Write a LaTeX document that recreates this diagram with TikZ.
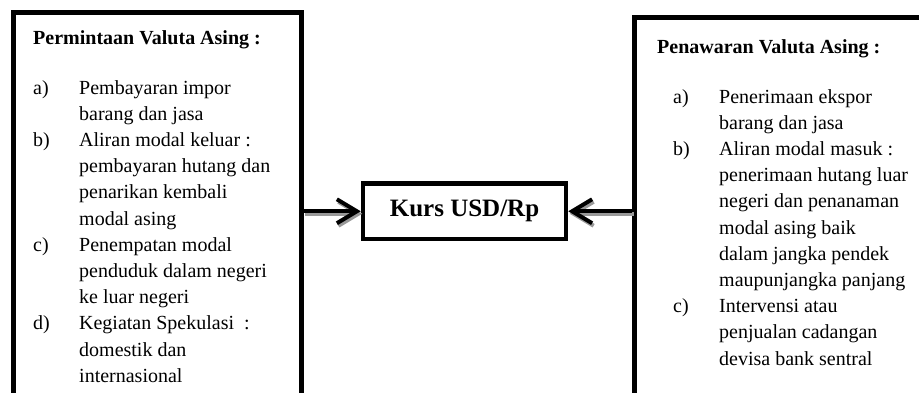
\documentclass[tikz,border=0pt]{standalone}
\usepackage{fontspec}
\setmainfont{Liberation Serif}
\usetikzlibrary{arrows.meta}
\begin{document}
\begin{tikzpicture}[x=1pt,y=-1pt,
  frame/.style={draw=black, line width=5pt, rectangle, inner sep=0pt},
  kursbox/.style={draw=black, line width=4.5pt, fill=white, rectangle, inner sep=0pt,
    minimum width=203pt, minimum height=55.5pt, font=\fontsize{25}{30}\selectfont\bfseries},
  titletext/.style={anchor=base west, inner sep=0pt, font=\fontsize{20}{26.2}\selectfont\bfseries},
  itemtext/.style={anchor=base west, inner sep=0pt, font=\fontsize{20}{26.2}\selectfont},
  link/.style={line width=4pt, -{Straight Barb[length=20pt,width=24pt]}},
  shadowlink/.style={link, draw=black!40, transform canvas={xshift=1.5pt,yshift=-2.5pt}}
]
\useasboundingbox (0,0) rectangle (919,392);
\fill[white] (0,0) rectangle (919,392);
\clip (0,0) rectangle (919,392);

\node[frame, minimum width=288pt, minimum height=408pt] (dem) at (157,216) {};
\node[frame, minimum width=296pt, minimum height=403pt] (sup) at (782.5,218.5) {};
\node[kursbox] (kurs) at (464.5,211.25) {Kurs USD/Rp};

\node[titletext] (demtitle) at (33,44) {Permintaan Valuta Asing :};
\node[itemtext] (demlist) at (33,94) {\begin{tabular}[t]{@{}p{46pt}@{}l@{}}
a) & Pembayaran impor\\
   & barang dan jasa\\
b) & Aliran modal keluar :\\
   & pembayaran hutang dan\\
   & penarikan kembali\\
   & modal asing\\
c) & Penempatan modal\\
   & penduduk dalam negeri\\
   & ke luar negeri\\
d) & Kegiatan Spekulasi\ \ :\\
   & domestik dan\\
   & internasional
\end{tabular}};

\node[titletext] (suptitle) at (657,53) {Penawaran Valuta Asing :};
\node[itemtext] (suplist) at (673,103) {\begin{tabular}[t]{@{}p{46pt}@{}l@{}}
a) & Penerimaan ekspor\\
   & barang dan jasa\\
b) & Aliran modal masuk :\\
   & penerimaan hutang luar\\
   & negeri dan penanaman\\
   & modal asing baik\\
   & dalam jangka pendek\\
   & maupunjangka panjang\\
c) & Intervensi atau\\
   & penjualan cadangan\\
   & devisa bank sentral
\end{tabular}};

\draw[shadowlink] (dem.east |- kurs) -- (kurs.west);
\draw[link] (dem.east |- kurs) -- (kurs.west);
\draw[shadowlink] (sup.west |- kurs) -- (kurs.east);
\draw[link] (sup.west |- kurs) -- (kurs.east);
\end{tikzpicture}
\end{document}
